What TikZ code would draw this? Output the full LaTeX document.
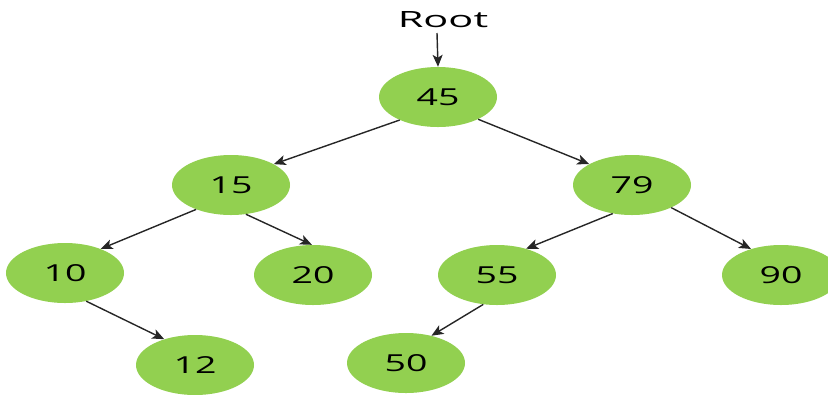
\documentclass[tikz,border=0pt]{standalone}
\usepackage{fontspec}
\setmainfont{Open Sans}
\usetikzlibrary{shapes.geometric,arrows.meta}
\definecolor{nodegreen}{HTML}{92D050}
\definecolor{edgegray}{HTML}{262626}
\begin{document}
\begin{tikzpicture}[x=1bp,y=-1bp,
  bst/.style={ellipse,fill=nodegreen,draw=none,minimum width=118bp,minimum height=60bp,inner sep=0pt,
    font=\fontsize{23.5}{23.5}\selectfont},
  edge/.style={draw=edgegray,line width=1.4bp,-{Stealth[length=12bp,width=10bp,inset=3bp]}}]
\useasboundingbox (0,0) rectangle (828,394);
\newcommand{\wide}[1]{\scalebox{1.6}[1]{#1}}
\node[bst] (n45) at (438,97) {\wide{45}};
\node[bst] (n15) at (231,185) {\wide{15}};
\node[bst] (n79) at (632,185) {\wide{79}};
\node[bst] (n10) at (65,273) {\wide{10}};
\node[bst] (n20) at (313,275) {\wide{20}};
\node[bst] (n55) at (497,275) {\wide{55}};
\node[bst] (n90) at (781,275) {\wide{90}};
\node[bst] (n12) at (195,365) {\wide{12}};
\node[bst] (n50) at (406,363) {\wide{50}};
\node[font=\fontsize{22.5}{22.5}\selectfont,inner sep=0pt] (root) at (443,20) {\scalebox{1.85}[1]{Root}};
\draw[edge] (437,33) -- (n45.north);
\draw[edge] (n45.211) -- (n15.26);
\draw[edge] (n45.331) -- (n79.154);
\draw[edge] (n15.215) -- (n10.34);
\draw[edge] (n15.297) -- (n20.92);
\draw[edge] (n10.307) -- (n12.140);
\draw[edge] (n79.236) -- (n55.42);
\draw[edge] (n79.330) -- (n90.139);
\draw[edge] (n55.245) -- (n50.47);
\end{tikzpicture}
\end{document}
